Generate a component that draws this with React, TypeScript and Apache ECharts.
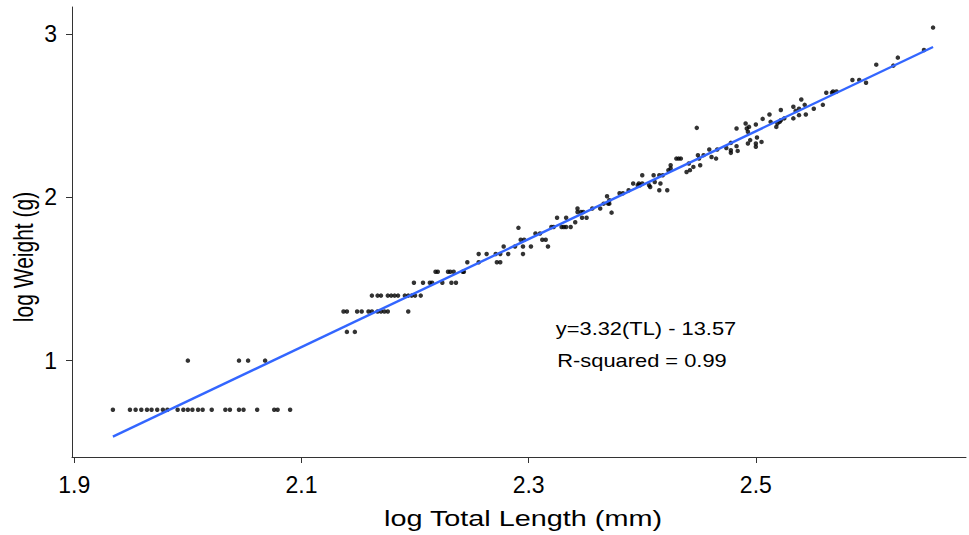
import React, { useEffect, useRef } from "react";
import * as echarts from "echarts";

const xTicks = [1.9, 2.1, 2.3, 2.5];
const yTicks = [1, 2, 3];

// [log TL, log W] – small fish (weights recorded in 5 g steps)
const smallFish: [number, number][] = [
  [1.934, 0.699], [1.949, 0.699], [1.954, 0.699], [1.959, 0.699], [1.964, 0.699], [1.968, 0.699],
  [1.973, 0.699], [1.978, 0.699], [1.982, 0.699], [1.991, 0.699], [1.996, 0.699], [2.0, 0.699],
  [2.004, 0.699], [2.009, 0.699], [2.013, 0.699], [2.021, 0.699], [2.033, 0.699], [2.037, 0.699],
  [2.045, 0.699], [2.049, 0.699], [2.061, 0.699], [2.076, 0.699], [2.079, 0.699], [2.09, 0.699],
  [2.0, 1.0], [2.045, 1.0], [2.053, 1.0], [2.068, 1.0],
  [2.14, 1.176], [2.147, 1.176],
  [2.137, 1.301], [2.14, 1.301], [2.149, 1.301], [2.153, 1.301], [2.159, 1.301], [2.162, 1.301],
  [2.167, 1.301], [2.17, 1.301], [2.173, 1.301], [2.176, 1.301], [2.194, 1.301],
  [2.162, 1.398], [2.167, 1.398], [2.17, 1.398], [2.176, 1.398], [2.179, 1.398], [2.182, 1.398],
  [2.185, 1.398], [2.191, 1.398], [2.194, 1.398], [2.197, 1.398], [2.2, 1.398], [2.205, 1.398],
  [2.199, 1.477], [2.207, 1.477], [2.213, 1.477], [2.215, 1.477], [2.224, 1.477], [2.232, 1.477], [2.236, 1.477],
  [2.218, 1.544], [2.22, 1.544], [2.229, 1.544], [2.231, 1.544], [2.234, 1.544], [2.242, 1.544], [2.243, 1.544],
  [2.246, 1.602], [2.256, 1.602], [2.272, 1.602], [2.275, 1.602],
  [2.256, 1.653], [2.263, 1.653], [2.271, 1.653], [2.275, 1.653], [2.282, 1.653], [2.295, 1.653],
  [2.278, 1.699], [2.288, 1.699], [2.295, 1.699], [2.302, 1.699], [2.317, 1.699],
  [2.293, 1.74], [2.296, 1.74], [2.312, 1.74], [2.315, 1.74],
  [2.306, 1.778], [2.31, 1.778], [2.291, 1.813],
];

// [log TL, log W] – larger fish
const largeFish: [number, number][] = [
  [2.32, 1.818], [2.322, 1.818], [2.329, 1.818], [2.331, 1.818], [2.333, 1.818], [2.337, 1.818],
  [2.325, 1.875], [2.333, 1.875], [2.341, 1.847], [2.343, 1.931], [2.343, 1.91], [2.346, 1.91],
  [2.348, 1.91], [2.347, 1.875], [2.351, 1.875], [2.356, 1.931], [2.363, 1.931], [2.366, 1.961],
  [2.37, 1.961], [2.371, 1.961], [2.369, 2.006], [2.371, 1.982], [2.373, 1.906], [2.38, 2.025],
  [2.383, 2.025], [2.388, 2.043], [2.392, 2.084], [2.396, 2.074], [2.397, 2.084], [2.398, 2.074],
  [2.4, 2.084], [2.4, 2.135], [2.406, 2.074], [2.407, 2.063], [2.41, 2.135], [2.411, 2.094],
  [2.415, 2.043], [2.416, 2.084], [2.415, 2.135], [2.418, 2.135], [2.422, 2.043], [2.423, 2.166],
  [2.425, 2.196], [2.425, 2.176], [2.43, 2.237], [2.432, 2.237], [2.434, 2.237], [2.439, 2.155],
  [2.441, 2.207], [2.442, 2.166], [2.445, 2.186], [2.448, 2.425], [2.449, 2.258], [2.45, 2.237],
  [2.451, 2.196], [2.454, 2.258], [2.459, 2.293], [2.461, 2.247], [2.465, 2.237], [2.466, 2.293],
  [2.474, 2.302], [2.478, 2.333], [2.478, 2.288], [2.478, 2.272], [2.483, 2.421], [2.483, 2.313],
  [2.484, 2.284], [2.491, 2.452], [2.492, 2.421], [2.493, 2.401], [2.494, 2.431], [2.493, 2.329],
  [2.495, 2.35], [2.5, 2.446], [2.5, 2.329], [2.5, 2.309], [2.501, 2.366], [2.505, 2.339],
  [2.506, 2.48], [2.512, 2.507], [2.513, 2.462], [2.518, 2.431], [2.519, 2.452], [2.521, 2.462],
  [2.522, 2.472], [2.522, 2.534], [2.525, 2.483], [2.533, 2.554], [2.533, 2.483], [2.535, 2.529],
  [2.538, 2.542], [2.538, 2.503], [2.54, 2.599], [2.543, 2.566], [2.544, 2.507], [2.551, 2.542],
  [2.559, 2.566], [2.562, 2.64], [2.567, 2.64], [2.568, 2.648], [2.571, 2.648], [2.585, 2.718],
  [2.591, 2.718], [2.597, 2.701], [2.606, 2.812], [2.621, 2.806], [2.625, 2.855], [2.648, 2.902],
  [2.656, 3.039],
];

// fitted regression line, end points
const fitLine: [number, number][] = [[1.934, 0.535], [2.656, 2.92]];

const equationText = "y=3.32(TL) - 13.57";
const r2Text = "R-squared = 0.99";
const xTitle = "log Total Length (mm)";
const yTitle = "log Weight (g)";

const FONT = "'Liberation Sans', Arial, sans-serif";

export default function App() {
  const ref = useRef<HTMLDivElement>(null);
  useEffect(() => {
    const chart = echarts.init(ref.current!, null, { renderer: "svg" });
    chart.setOption({
      animation: false,
      backgroundColor: "#fff",
      textStyle: { fontFamily: FONT },
      grid: { left: 72, right: 3, top: 7, bottom: 78, containLabel: false },
      xAxis: {
        type: "value",
        min: 1.898,
        max: 2.685,
        splitLine: { show: false },
        axisLine: { show: true, lineStyle: { color: "#333", width: 1 } },
        axisTick: { show: true, length: 6, customValues: xTicks, lineStyle: { color: "#333" } },
        axisLabel: {
          customValues: xTicks,
          formatter: (v: number) => v.toFixed(1),
          color: "#000",
          fontSize: 23,
          margin: 16,
          fontFamily: FONT,
        },
      },
      yAxis: {
        type: "value",
        min: 0.41,
        max: 3.165,
        splitLine: { show: false },
        axisLine: { show: true, lineStyle: { color: "#333", width: 1 } },
        axisTick: { show: true, length: 6, customValues: yTicks, lineStyle: { color: "#333" } },
        axisLabel: {
          customValues: yTicks,
          formatter: (v: number) => String(v),
          color: "#000",
          fontSize: 23,
          margin: 15,
          fontFamily: FONT,
        },
      },
      graphic: [
        {
          type: "text",
          x: 523,
          y: 518,
          scaleX: 1.34,
          style: { text: xTitle, fontSize: 21.5, fill: "#000", align: "center", verticalAlign: "middle", fontFamily: FONT },
        },
        {
          type: "group",
          x: 23,
          y: 257,
          rotation: Math.PI / 2,
          children: [
            {
              type: "text",
              x: 0,
              y: 0,
              scaleY: 1.3,
              style: { text: yTitle, fontSize: 21, fill: "#000", align: "center", verticalAlign: "middle", fontFamily: FONT },
            },
          ],
        },
        {
          type: "text",
          x: 646,
          y: 329,
          scaleX: 1.25,
          style: { text: equationText, fontSize: 17.5, fill: "#000", align: "center", verticalAlign: "middle", fontFamily: FONT },
        },
        {
          type: "text",
          x: 642,
          y: 361,
          scaleX: 1.25,
          style: { text: r2Text, fontSize: 17.5, fill: "#000", align: "center", verticalAlign: "middle", fontFamily: FONT },
        },
      ],
      series: [
        {
          type: "scatter",
          data: [...smallFish, ...largeFish],
          symbolSize: 4.5,
          itemStyle: { color: "#000" },
          z: 2,
        },
        {
          type: "line",
          data: fitLine,
          showSymbol: false,
          lineStyle: { color: "#3366FF", width: 2.4 },
          z: 3,
        },
      ],
    });
    return () => chart.dispose();
  }, []);
  return (
    <div
      ref={ref}
      style={{ position: "fixed", left: 0, top: 0, width: 969, height: 535, background: "#fff" }}
    />
  );
}
